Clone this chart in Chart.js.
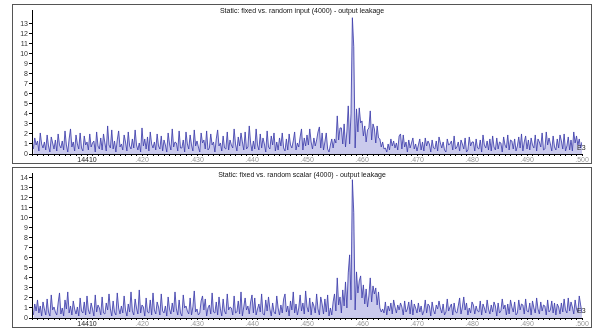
<!DOCTYPE html>
<html><head><meta charset="utf-8">
<script src="https://cdn.jsdelivr.net/npm/chart.js@4"></script>
<style>
html,body{margin:0;padding:0;background:#fff;width:594px;height:331px;overflow:hidden;font-family:'Liberation Sans',Arial,sans-serif}
.panel{position:absolute;left:12px;width:578px;border:1px solid #555;background:#fff}
#p1{top:4px;height:158px}
#p2{top:167px;height:159px}
.panel canvas{position:absolute;left:0;top:0}
.title{position:absolute;left:0;width:578px;text-align:center;font-size:7px;line-height:8px;color:#111;white-space:nowrap;z-index:2}
.e3{position:absolute;left:564px;top:139px;font-size:7px;line-height:8px;color:#222;z-index:2}
</style>
</head><body>
<div class="panel" id="p1">
  <canvas id="c1" width="578" height="158"></canvas>
  <div class="title" style="top:2px">Static: fixed vs. random input (4000) - output leakage</div>
  <div class="e3">E3</div>
</div>
<div class="panel" id="p2">
  <canvas id="c2" width="578" height="159"></canvas>
  <div class="title" style="top:3px">Static: fixed vs. random scalar (4000) - output leakage</div>
  <div class="e3">E3</div>
</div>
<script>
// sample positions
const xStart = 14400.25;
const xStep = 0.25;

// x tick labels
const xLabelValues = [14410, 14420, 14430, 14440, 14450, 14460, 14470, 14480, 14490, 14500];
const xLabelTexts = ['14410', '.420', '.430', '.440', '.450', '.460', '.470', '.480', '.490', '.500'];

// y tick values
const yTicksTop = [0,1,2,3,4,5,6,7,8,9,10,11,12,13];
const yTicksBottom = [0,1,2,3,4,5,6,7,8,9,10,11,12,13,14];

// Static: fixed vs. random input (4000) - output leakage
const inputLeakage = [
 0.5,1.6,0.9,1.3, 0.3,2.1,1.0,0.6, 1.2,0.4,1.9,0.8, 0.2,1.7,1.1,0.5, 1.4,0.3,2.0,0.9,
 0.6,1.3,0.4,2.3, 0.9,0.2,1.5,2.5, 0.7,1.2,0.3,1.9, 1.0,0.5,2.1,0.6, 0.3,1.8,0.9,1.2,
 0.4,2.0,0.7,1.1, 1.3,0.2,2.2,0.8, 0.5,1.6,0.4,2.0, 1.1,0.3,2.8,0.9, 0.6,2.4,0.5,1.3,
 0.2,1.4,2.3,0.7, 1.0,0.4,1.9,1.2, 0.3,2.2,0.8,0.5, 1.5,0.6,2.4,0.9, 0.4,1.1,0.2,2.6,
 0.8,1.5,0.5,1.7, 0.3,2.2,1.0,0.6, 1.2,0.4,2.0,0.8, 0.5,1.8,0.3,1.4, 0.9,0.2,2.1,1.0,
 0.4,2.5,0.7,1.2, 1.1,0.3,2.3,0.6, 0.6,1.4,0.2,2.2, 1.0,0.5,1.9,0.9, 0.3,2.4,0.8,1.3,
 0.7,0.2,2.1,1.1, 1.4,0.5,2.3,0.4, 0.6,2.0,0.9,1.2, 0.2,1.5,2.4,0.8, 1.1,0.3,1.8,0.6,
 0.5,2.2,0.4,1.4, 0.9,0.6,2.5,1.0, 0.3,1.7,0.8,2.1, 1.2,0.4,2.2,0.5, 0.7,2.8,1.1,0.3,
 1.3,0.5,2.5,0.9, 0.4,2.0,0.6,1.6, 1.0,0.2,2.3,0.7, 0.5,1.8,0.9,2.1, 0.3,1.2,0.4,1.6,
 0.8,2.1,0.6,0.3, 1.5,0.4,2.0,0.9, 0.6,1.3,2.2,0.4, 1.1,0.7,1.7,2.5, 0.4,1.6,0.8,1.9,
 0.9,2.5,1.2,0.5, 1.6,0.8,1.4,2.2, 2.7,0.6,2.1,0.4, 1.2,2.1,0.5,0.2, 0.9,1.5,0.6,1.5,
 1.1,3.8,1.4,2.6, 2.6,1.0,3.0,0.7, 2.2,4.8,1.0,4.0, 13.6,10.7,0.6,4.5, 2.2,4.6,3.1,3.3,
 1.8,2.8,1.2,2.4, 2.6,4.3,1.4,3.0, 2.5,1.1,2.8,1.6, 1.5,0.7,1.2,0.5, 0.6,0.2,1.0,0.4,
 1.5,0.8,1.3,0.6, 1.1,0.4,1.8,2.0, 0.5,1.9,0.7,1.2, 0.2,1.4,0.6,1.1, 1.6,0.5,1.0,0.3,
 0.9,1.5,0.4,1.2, 0.3,1.6,0.8,1.3, 1.0,0.2,1.4,0.6, 0.5,1.3,0.3,1.7, 1.1,0.6,1.2,0.4,
 0.2,1.5,0.9,1.0, 1.3,0.4,1.8,0.5, 0.7,1.2,0.3,1.4, 1.0,0.5,1.6,0.2, 0.4,1.7,0.8,1.2,
 1.2,0.3,1.5,0.6, 0.5,1.4,0.2,1.9, 0.9,0.6,1.3,0.4, 1.5,0.3,1.8,0.7, 0.4,1.6,0.5,1.2,
 1.1,0.2,1.7,0.9, 0.6,1.9,0.4,1.4, 1.3,0.5,1.5,0.3, 0.8,1.7,0.6,2.0, 0.3,1.2,1.8,0.5,
 1.4,0.4,1.6,0.9, 0.6,1.9,0.3,1.5, 1.2,0.7,2.1,0.4, 0.5,2.2,0.9,1.6, 1.0,0.3,1.8,0.7,
 0.4,1.5,0.6,1.9, 1.3,0.5,2.0,0.3, 0.8,1.7,0.4,1.4, 0.3,2.2,1.1,1.8, 0.9,1.5,0.6,1.2
];

// Static: fixed vs. random scalar (4000) - output leakage
const scalarLeakage = [
 0.3,1.4,0.7,1.8, 0.5,1.2,0.2,1.6, 0.9,0.3,1.9,0.6, 0.2,2.3,0.8,1.1, 0.6,0.3,1.5,2.5,
 0.4,1.0,0.2,1.8, 0.9,2.6,0.5,1.2, 0.3,1.7,0.9,0.4, 1.1,0.2,2.0,0.7, 0.5,1.6,0.3,2.2,
 0.8,0.4,1.5,0.9, 0.2,2.3,0.6,1.3, 1.0,0.3,2.1,0.5, 0.4,1.5,0.8,2.4, 0.9,0.2,1.7,0.6,
 0.3,2.5,1.0,0.4, 1.2,0.5,2.2,0.8, 0.2,1.4,0.6,2.6, 0.7,0.3,1.9,1.0, 0.4,2.8,0.5,1.3,
 1.1,0.2,2.0,0.6, 0.5,1.8,0.3,2.5, 0.8,0.4,1.6,1.1, 0.3,2.4,0.7,0.5, 1.2,0.2,2.1,0.9,
 0.4,1.5,0.6,2.6, 0.9,0.3,1.8,0.5, 0.2,2.3,1.0,1.2, 0.7,0.4,2.0,0.3, 1.1,2.7,0.6,0.9,
 0.3,0.5,1.7,2.2, 0.8,1.9,0.2,1.0, 1.3,0.4,2.5,0.6, 0.5,1.6,0.3,2.1, 0.9,0.2,1.9,0.7,
 0.4,2.4,0.8,1.1, 1.0,0.3,2.2,0.5, 0.6,1.7,0.4,2.6, 0.2,1.1,2.0,0.8, 1.2,0.4,1.6,2.3,
 0.5,2.0,0.3,0.9, 1.4,0.6,2.4,0.4, 0.3,1.8,0.7,2.1, 0.9,0.2,1.5,0.6, 0.4,2.2,1.0,0.3,
 1.3,0.5,1.9,2.4, 0.6,1.2,0.2,1.7, 0.8,2.6,0.5,1.4, 0.3,1.0,2.3,0.7, 1.5,0.4,2.7,1.1,
 0.6,2.0,0.3,1.6, 1.2,0.5,2.4,0.9, 0.3,2.1,1.4,0.4, 1.9,0.6,2.3,0.2, 1.0,0.3,1.6,2.4,
 0.7,4.0,1.3,2.1, 0.5,2.8,1.2,3.6, 1.0,4.5,6.3,1.8, 13.8,10.5,0.8,4.6, 2.5,3.7,4.2,2.0,
 3.3,1.4,2.9,1.1, 2.2,4.0,1.6,3.2, 2.4,3.0,1.3,2.6, 1.0,0.6,0.9,0.5, 1.6,0.3,1.2,0.7,
 1.5,0.4,1.8,1.1, 0.5,1.3,0.8,1.5, 1.1,0.3,1.7,0.6, 0.9,1.6,0.4,1.8, 0.3,1.4,1.0,0.5,
 1.5,0.6,1.2,0.3, 0.7,1.8,0.5,1.4, 1.2,0.2,1.6,0.8, 0.4,1.3,0.9,1.7, 1.0,0.5,1.4,0.3,
 0.6,1.9,0.7,1.1, 1.4,0.3,1.5,0.6, 0.5,1.2,2.0,0.4, 1.1,2.1,0.8,1.5, 0.3,1.0,0.5,1.6,
 1.3,0.4,1.2,0.7, 0.6,1.7,0.3,1.4, 1.0,0.5,1.8,0.9, 0.4,1.3,0.6,1.6, 1.2,0.2,1.5,0.5,
 0.7,1.9,0.9,1.3, 0.3,1.4,0.4,1.8, 1.1,0.6,1.6,0.3, 0.5,1.8,0.8,1.4, 1.3,0.4,1.9,0.7,
 0.6,1.5,0.3,1.7, 1.0,0.5,2.0,0.9, 0.4,1.6,0.7,1.3, 1.2,0.3,1.8,0.6, 0.8,1.7,0.5,1.5,
 0.3,1.4,1.1,0.4, 1.5,0.6,1.9,0.8, 0.5,2.0,0.7,1.6, 1.1,0.4,1.8,0.9, 0.6,2.2,1.3,0.5
];

// minor tick positions every unit along the x axis
const xTickValues = [];
for (let v = 14400; v <= 14500; v++) xTickValues.push(v);

function makeChart(id, values, yMax, yTicks) {
  const pts = values.map((v, i) => ({ x: xStart + i * xStep, y: v }));
  return new Chart(document.getElementById(id), {
    type: 'line',
    data: { datasets: [{
      data: pts,
      borderColor: 'rgba(62,62,172,0.85)',
      backgroundColor: 'rgba(150,150,218,0.5)',
      fill: 'origin',
      borderWidth: 1,
      pointRadius: 0,
      tension: 0
    }]},
    options: {
      responsive: false,
      animation: false,
      devicePixelRatio: 1,
      layout: { padding: { top: 2, right: 9, bottom: 0, left: 0 } },
      plugins: { legend: { display: false }, tooltip: { enabled: false }, title: { display: false } },
      scales: {
        x: {
          type: 'linear', min: 14400, max: 14500,
          afterBuildTicks: s => { s.ticks = xTickValues.map(v => ({ value: v })); },
          afterFit: s => { s.height = 9; },
          grid: { display: true, drawOnChartArea: false, drawTicks: true, tickLength: 2, color: '#000', tickColor: '#000' },
          border: { display: true, color: '#000', width: 1 },
          ticks: {
            autoSkip: false, maxRotation: 0, minRotation: 0, padding: 0,
            font: { size: 7, family: "'Liberation Sans', Arial, sans-serif" },
            color: ctx => (ctx.tick && ctx.tick.value === xLabelValues[0]) ? '#222' : '#999',
            callback: v => { const k = xLabelValues.indexOf(v); return k >= 0 ? xLabelTexts[k] : ''; }
          }
        },
        y: {
          min: 0, max: yMax,
          afterBuildTicks: s => { s.ticks = yTicks.map(v => ({ value: v })); },
          afterFit: s => { s.width = 19; },
          grid: { display: true, drawOnChartArea: false, drawTicks: true, tickLength: 3, color: '#000', tickColor: '#000' },
          border: { display: true, color: '#000', width: 1 },
          ticks: {
            autoSkip: false,
            padding: 1,
            font: { size: 7, family: "'Liberation Sans', Arial, sans-serif" },
            color: '#333',
            callback: v => String(v)
          }
        }
      }
    }
  });
}

makeChart('c1', inputLeakage, 14.35, yTicksTop);
makeChart('c2', scalarLeakage, 14.45, yTicksBottom);
</script>
</body></html>
